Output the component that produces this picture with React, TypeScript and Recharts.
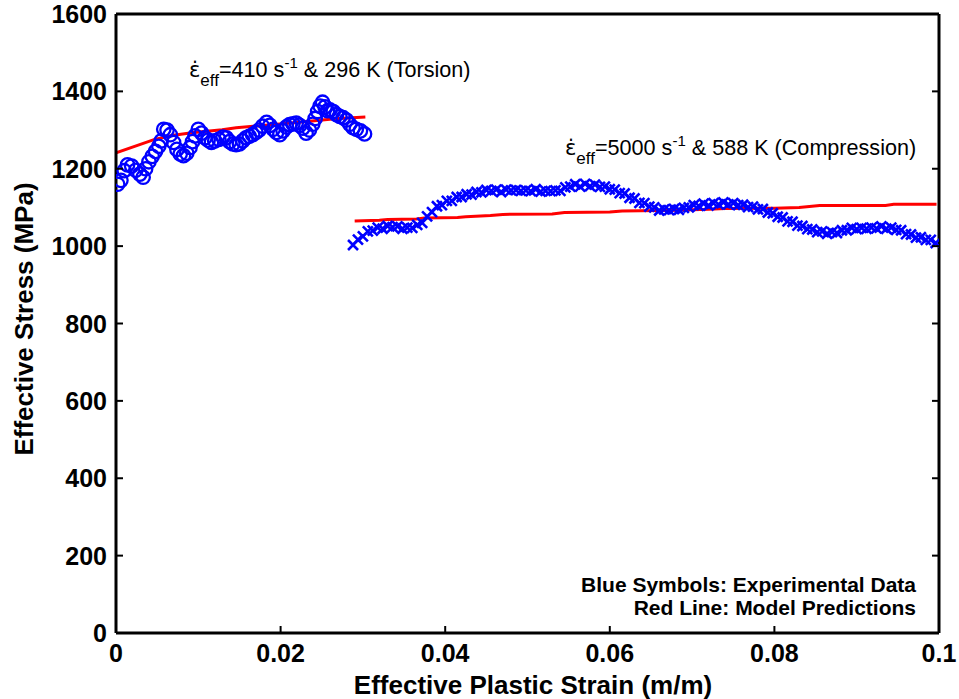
import React from "react";
import { ComposedChart, XAxis, YAxis, Scatter, Line } from "recharts";

if (typeof document !== "undefined") {
  document.body.style.margin = "0";
  document.body.style.overflow = "hidden";
}

const FONT = "'Liberation Sans', Arial, Helvetica, sans-serif";
const BLUE = "#0000ff";
const RED = "#ff0000";

const xTicks = [0, 0.02, 0.04, 0.06, 0.08, 0.1];
const yTicks = [0, 200, 400, 600, 800, 1000, 1200, 1400, 1600];

// Torsion experiment (410 1/s, 296 K) - circles
const torsionStrain = [
  0.0002, 0.0006, 0.001, 0.0014, 0.0019, 0.0024, 0.0029, 0.0033, 0.0036, 0.004,
  0.0044, 0.0048, 0.0052, 0.0055, 0.0058, 0.0062, 0.0066, 0.007, 0.0074, 0.0078,
  0.0082, 0.0086, 0.009, 0.0093, 0.0096, 0.01, 0.0104, 0.0108, 0.0112, 0.0116,
  0.012, 0.0125, 0.013, 0.0134, 0.0138, 0.0142, 0.0146, 0.015, 0.0154, 0.0158,
  0.0162, 0.0166, 0.017, 0.0174, 0.0178, 0.0183, 0.0187, 0.0191, 0.0195, 0.0199,
  0.0203, 0.0207, 0.0211, 0.0215, 0.0219, 0.0223, 0.0227, 0.0231, 0.0235, 0.0239,
  0.0242, 0.0245, 0.0248, 0.0251, 0.0254, 0.0257, 0.026, 0.0264, 0.0268, 0.0272,
  0.0276, 0.028, 0.0284, 0.0288, 0.0292, 0.0297, 0.0302,
];
const torsionStress = [
  1160, 1170, 1195, 1210, 1207, 1196, 1186, 1178, 1200, 1218,
  1232, 1245, 1258, 1272, 1302, 1300, 1288, 1268, 1250, 1238,
  1234, 1240, 1255, 1270, 1285, 1302, 1292, 1280, 1274, 1268,
  1272, 1276, 1282, 1280, 1270, 1264, 1262, 1264, 1272, 1280,
  1284, 1288, 1294, 1300, 1310, 1320, 1312, 1302, 1294, 1288,
  1298, 1308, 1314, 1316, 1318, 1312, 1305, 1292, 1300, 1315,
  1330, 1348, 1362, 1372, 1360, 1350, 1352, 1348, 1340, 1335,
  1332, 1326, 1315, 1306, 1302, 1298, 1290,
];

// Torsion model prediction - red line
const torsionModelStrain = [0, 0.0027, 0.0047, 0.0068, 0.0092, 0.0129, 0.0146, 0.0185, 0.0226, 0.0266, 0.0303];
const torsionModelStress = [1241, 1261, 1276, 1286, 1293, 1301, 1306, 1313, 1321, 1329, 1334];

// Compression experiment (5000 1/s, 588 K) - crosses
const compressionStrain = [
  0.0288, 0.0294, 0.03, 0.0306, 0.0312, 0.0318, 0.0324, 0.033, 0.0336, 0.0342,
  0.0348, 0.0354, 0.036, 0.0366, 0.0372, 0.0378, 0.0384, 0.039, 0.0396, 0.0402,
  0.0408, 0.0414, 0.042, 0.0426, 0.0432, 0.0438, 0.0444, 0.045, 0.0456, 0.0462,
  0.0468, 0.0474, 0.048, 0.0486, 0.0492, 0.0498, 0.0504, 0.051, 0.0516, 0.0522,
  0.0528, 0.0534, 0.054, 0.0546, 0.0552, 0.0558, 0.0564, 0.057, 0.0576, 0.0582,
  0.0588, 0.0594, 0.06, 0.0606, 0.0612, 0.0618, 0.0624, 0.063, 0.0636, 0.0642,
  0.0648, 0.0654, 0.066, 0.0666, 0.0672, 0.0678, 0.0684, 0.069, 0.0696, 0.0702,
  0.0708, 0.0714, 0.072, 0.0726, 0.0732, 0.0738, 0.0744, 0.075, 0.0756, 0.0762,
  0.0768, 0.0774, 0.078, 0.0786, 0.0792, 0.0798, 0.0804, 0.081, 0.0816, 0.0822,
  0.0828, 0.0834, 0.084, 0.0846, 0.0852, 0.0858, 0.0864, 0.087, 0.0876, 0.0882,
  0.0888, 0.0894, 0.09, 0.0906, 0.0912, 0.0918, 0.0924, 0.093, 0.0936, 0.0942,
  0.0948, 0.0954, 0.096, 0.0966, 0.0972, 0.0978, 0.0984, 0.099, 0.0996,
];
const compressionStress = [
  1003, 1017, 1025, 1038, 1040, 1048, 1045, 1052, 1049, 1051,
  1045, 1048, 1047, 1055, 1060, 1077, 1088, 1103, 1106, 1117,
  1117, 1127, 1127, 1134, 1133, 1140, 1139, 1145, 1143, 1146,
  1140, 1146, 1144, 1145, 1143, 1144, 1142, 1147, 1141, 1143,
  1142, 1144, 1143, 1152, 1154, 1160, 1154, 1161, 1155, 1159,
  1153, 1154, 1147, 1146, 1137, 1136, 1125, 1123, 1112, 1111,
  1102, 1100, 1092, 1095, 1093, 1096, 1094, 1099, 1100, 1106,
  1104, 1110, 1105, 1111, 1108, 1113, 1108, 1111, 1106, 1107,
  1101, 1102, 1095, 1096, 1087, 1085, 1076, 1074, 1064, 1063,
  1053, 1052, 1044, 1043, 1036, 1038, 1032, 1036, 1034, 1041,
  1041, 1047, 1044, 1047, 1045, 1048, 1046, 1051, 1045, 1048,
  1042, 1041, 1031, 1030, 1022, 1023, 1016, 1016, 1008,
];

// Compression model prediction - red line
const compressionModelStrain = [
  0.029, 0.032, 0.033, 0.0365, 0.0375, 0.0415, 0.0425, 0.0455, 0.047, 0.053,
  0.0545, 0.06, 0.0615, 0.066, 0.068, 0.072, 0.074, 0.08, 0.083, 0.0855,
  0.0935, 0.0945, 0.0997,
];
const compressionModelStress = [
  1065, 1067, 1069, 1070, 1073, 1074, 1076, 1079, 1082, 1083,
  1087, 1088, 1091, 1092, 1093, 1095, 1097, 1098, 1100, 1105,
  1105, 1108, 1108,
];

const zip = (xs: number[], ys: number[]) => xs.map((x, i) => ({ strain: x, stress: ys[i] }));
const torsionData = zip(torsionStrain, torsionStress);
const torsionModel = zip(torsionModelStrain, torsionModelStress);
const compressionData = zip(compressionStrain, compressionStress);
const compressionModel = zip(compressionModelStrain, compressionModelStress);

const TICK_LEN = 7;
const fmt = (v: number) => String(v);

const BottomTick = (p: any) => (
  <g>
    <line x1={p.x} y1={p.y} x2={p.x} y2={p.y - TICK_LEN} stroke="#000" strokeWidth={2} />
    <text x={p.x} y={p.y + 29} textAnchor="middle" fontFamily={FONT} fontWeight="bold" fontSize={25} fill="#000">
      {fmt(p.payload.value)}
    </text>
  </g>
);
const TopTick = (p: any) => (
  <line x1={p.x} y1={p.y} x2={p.x} y2={p.y + TICK_LEN} stroke="#000" strokeWidth={2} />
);
const LeftTick = (p: any) => (
  <g>
    <line x1={p.x} y1={p.y} x2={p.x + TICK_LEN} y2={p.y} stroke="#000" strokeWidth={2} />
    <text x={p.x - 9} y={p.y + 9} textAnchor="end" fontFamily={FONT} fontWeight="bold" fontSize={25} fill="#000">
      {fmt(p.payload.value)}
    </text>
  </g>
);
const RightTick = (p: any) => (
  <line x1={p.x} y1={p.y} x2={p.x - TICK_LEN} y2={p.y} stroke="#000" strokeWidth={2} />
);

const CircleMark = (p: any) => (
  <circle cx={p.cx} cy={p.cy} r={6.7} fill="none" stroke={BLUE} strokeWidth={2.3} />
);
const CrossMark = (p: any) => {
  const s = 5;
  const { cx, cy } = p;
  return (
    <path
      d={`M${cx - s},${cy - s}L${cx + s},${cy + s}M${cx - s},${cy + s}L${cx + s},${cy - s}`}
      stroke={BLUE}
      strokeWidth={2.6}
      fill="none"
    />
  );
};

const axisLine = { stroke: "#000", strokeWidth: 3 };

const Rate = ({ x, y, rate, rest }: { x: number; y: number; rate: string; rest: string }) => (
  <text x={x} y={y} fontSize={21.6}>
    <tspan fontFamily="'DejaVu Sans', sans-serif" fontSize={21}>{"ε\u0307"}</tspan>
    <tspan fontSize={17} dy={9}>eff</tspan>
    <tspan dy={-9}>{`=${rate} s`}</tspan>
    <tspan fontSize={15} dy={-9}>-1</tspan>
    <tspan dy={9}>{rest}</tspan>
  </text>
);

export default function App() {
  return (
    <div style={{ position: "relative", width: 959, height: 699, background: "#fff" }}>
      <ComposedChart width={959} height={699} margin={{ top: 0, right: 0, bottom: 0, left: 0 }}>
        <XAxis
          xAxisId="b"
          dataKey="strain"
          type="number"
          domain={[0, 0.1]}
          ticks={xTicks}
          interval={0}
          allowDataOverflow
          height={66}
          axisLine={axisLine}
          tickLine={false}
          tickSize={0}
          tickMargin={0}
          tick={<BottomTick />}
        />
        <XAxis
          xAxisId="t"
          orientation="top"
          type="number"
          domain={[0, 0.1]}
          ticks={xTicks}
          interval={0}
          allowDataOverflow
          height={14}
          axisLine={axisLine}
          tickLine={false}
          tickSize={0}
          tickMargin={0}
          tick={<TopTick />}
        />
        <YAxis
          yAxisId="l"
          type="number"
          domain={[0, 1600]}
          ticks={yTicks}
          interval={0}
          allowDataOverflow
          width={116}
          axisLine={axisLine}
          tickLine={false}
          tickSize={0}
          tickMargin={0}
          tick={<LeftTick />}
        />
        <YAxis
          yAxisId="r"
          orientation="right"
          type="number"
          domain={[0, 1600]}
          ticks={yTicks}
          interval={0}
          allowDataOverflow
          width={20}
          axisLine={axisLine}
          tickLine={false}
          tickSize={0}
          tickMargin={0}
          tick={<RightTick />}
        />
        <Scatter
          xAxisId="b"
          yAxisId="l"
          data={torsionData}
          dataKey="stress"
          shape={<CircleMark />}
          isAnimationActive={false}
        />
        <Scatter
          xAxisId="b"
          yAxisId="l"
          data={compressionData}
          dataKey="stress"
          shape={<CrossMark />}
          isAnimationActive={false}
        />
        <Line
          xAxisId="b"
          yAxisId="l"
          data={torsionModel}
          dataKey="stress"
          type="linear"
          stroke={RED}
          strokeWidth={3}
          dot={false}
          activeDot={false}
          isAnimationActive={false}
        />
        <Line
          xAxisId="b"
          yAxisId="l"
          data={compressionModel}
          dataKey="stress"
          type="linear"
          stroke={RED}
          strokeWidth={3}
          dot={false}
          activeDot={false}
          isAnimationActive={false}
        />
      </ComposedChart>
      <svg
        width={959}
        height={699}
        style={{ position: "absolute", left: 0, top: 0, pointerEvents: "none" }}
      >
        <g fontFamily={FONT} fill="#000">
          <Rate x={189} y={77} rate="410" rest=" & 296 K (Torsion)" />
          <Rate x={565} y={155} rate="5000" rest=" & 588 K (Compression)" />
          <text x={916} y={592} fontSize={21} fontWeight="bold" textAnchor="end">
            Blue Symbols: Experimental Data
          </text>
          <text x={916} y={615} fontSize={21} fontWeight="bold" textAnchor="end">
            Red Line: Model Predictions
          </text>
          <text x={533} y={694} fontSize={26} fontWeight="bold" textAnchor="middle">
            Effective Plastic Strain (m/m)
          </text>
          <text
            x={33}
            y={319}
            fontSize={26}
            fontWeight="bold"
            textAnchor="middle"
            transform="rotate(-90 33 319)"
          >
            Effective Stress (MPa)
          </text>
        </g>
      </svg>
    </div>
  );
}
